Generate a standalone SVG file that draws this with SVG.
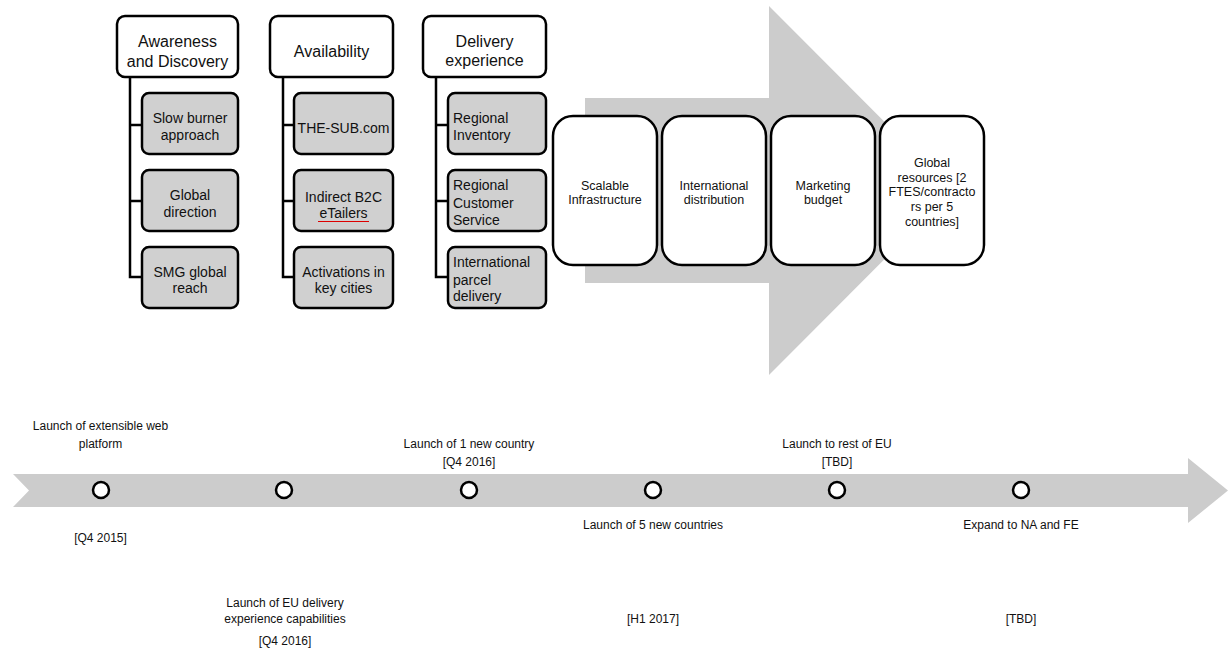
<svg xmlns="http://www.w3.org/2000/svg" width="1229" height="653" viewBox="0 0 1229 653">
<style>
text{font-family:"Liberation Sans",Arial,sans-serif;fill:#111}
.hdr{fill:#fff;stroke:#000;stroke-width:2.5}
.sub{fill:#d0d0d0;stroke:#000;stroke-width:2.5}
.step{fill:#fff;stroke:#000;stroke-width:2.5}
.h{font-size:16px;text-anchor:middle}
.c{font-size:14px;text-anchor:middle}
.l{font-size:14px}
.s{font-size:12.5px;text-anchor:middle}
.t{font-size:12px;text-anchor:middle}
.conn{fill:none;stroke:#000;stroke-width:2.5}
.ms{fill:#fff;stroke:#000;stroke-width:2.5}
.band{fill:#cccccc}
</style>
<g id="big-arrow"><polygon class="band" points="585,98 769,98 769,6 953,190.5 769,375 769,283 585,283"/></g>
<g id="timeline-arrow"><polygon class="band" points="13,474 1188,474 1188,458 1228,490.5 1188,523 1188,507 13,507 29,490.5"/></g>
<g id="connectors">
<path class="conn" d="M130,77V277H142M130,125H142M130,201H142"/>
<path class="conn" d="M283,77V277H294M283,125H294M283,201H294"/>
<path class="conn" d="M436,77V277H448M436,125H448M436,201H448"/>
</g>
<g id="awareness"><rect class="hdr" x="117" y="16" width="121" height="61" rx="8"/><text class="h" x="177.5" y="47">Awareness</text><text class="h" x="177.5" y="67">and Discovery</text></g>
<g id="slow-burner"><rect class="sub" x="142" y="93" width="96" height="61" rx="7"/><text class="c" x="190" y="123">Slow burner</text><text class="c" x="190" y="140">approach</text></g>
<g id="global-direction"><rect class="sub" x="142" y="170" width="96" height="61" rx="7"/><text class="c" x="190" y="200">Global</text><text class="c" x="190" y="217">direction</text></g>
<g id="smg-reach"><rect class="sub" x="142" y="247" width="96" height="61" rx="7"/><text class="c" x="190" y="277">SMG global</text><text class="c" x="190" y="293">reach</text></g>
<g id="availability"><rect class="hdr" x="270" y="16" width="123" height="61" rx="8"/><text class="h" x="331.5" y="57">Availability</text></g>
<g id="the-sub"><rect class="sub" x="294" y="93" width="99" height="61" rx="7"/><text class="c" x="343.5" y="133">THE-SUB.com</text></g>
<g id="indirect"><rect class="sub" x="294" y="170" width="99" height="61" rx="7"/><text class="c" x="343.5" y="202">Indirect B2C</text><text class="c" x="343.5" y="218">eTailers</text><line x1="318" y1="221.5" x2="369" y2="221.5" stroke="#d00" stroke-width="1"/></g>
<g id="activations"><rect class="sub" x="294" y="247" width="99" height="61" rx="7"/><text class="c" x="343.5" y="277">Activations in</text><text class="c" x="343.5" y="293">key cities</text></g>
<g id="delivery"><rect class="hdr" x="423" y="16" width="123" height="61" rx="8"/><text class="h" x="484.5" y="47">Delivery</text><text class="h" x="484.5" y="66">experience</text></g>
<g id="regional-inventory"><rect class="sub" x="448" y="93" width="98" height="61" rx="7"/><text class="l" x="453" y="123">Regional</text><text class="l" x="453" y="140">Inventory</text></g>
<g id="regional-cs"><rect class="sub" x="448" y="170" width="98" height="61" rx="7"/><text class="l" x="453" y="190">Regional</text><text class="l" x="453" y="208">Customer</text><text class="l" x="453" y="225">Service</text></g>
<g id="parcel"><rect class="sub" x="448" y="247" width="98" height="61" rx="7"/><text class="l" x="453" y="267">International</text><text class="l" x="453" y="285">parcel</text><text class="l" x="453" y="301">delivery</text></g>
<g id="scalable"><rect class="step" x="553" y="116" width="104" height="149" rx="20"/><text class="s" x="605" y="190">Scalable</text><text class="s" x="605" y="204">Infrastructure</text></g>
<g id="intl-dist"><rect class="step" x="662" y="116" width="104" height="149" rx="20"/><text class="s" x="714" y="190">International</text><text class="s" x="714" y="204">distribution</text></g>
<g id="marketing"><rect class="step" x="771" y="116" width="104" height="149" rx="20"/><text class="s" x="823" y="190">Marketing</text><text class="s" x="823" y="204">budget</text></g>
<g id="global-resources"><rect class="step" x="880" y="116" width="104" height="149" rx="20"/><text class="s" x="932" y="167">Global</text><text class="s" x="932" y="182">resources [2</text><text class="s" x="932" y="196">FTES/contracto</text><text class="s" x="932" y="211">rs per 5</text><text class="s" x="932" y="226">countries]</text></g>
<g id="m1"><circle class="ms" cx="101" cy="490" r="8"/><text class="t" x="100.5" y="430">Launch of extensible web</text><text class="t" x="100.5" y="448">platform</text><text class="t" x="100.5" y="542">[Q4 2015]</text></g>
<g id="m2"><circle class="ms" cx="284" cy="490" r="8"/><text class="t" x="285" y="607">Launch of EU delivery</text><text class="t" x="285" y="623">experience capabilities</text><text class="t" x="285" y="645">[Q4 2016]</text></g>
<g id="m3"><circle class="ms" cx="469" cy="490" r="8"/><text class="t" x="469" y="448">Launch of 1 new country</text><text class="t" x="469" y="466">[Q4 2016]</text></g>
<g id="m4"><circle class="ms" cx="653" cy="490" r="8"/><text class="t" x="653" y="529">Launch of 5 new countries</text><text class="t" x="653" y="623">[H1 2017]</text></g>
<g id="m5"><circle class="ms" cx="837" cy="490" r="8"/><text class="t" x="837" y="448">Launch to rest of EU</text><text class="t" x="837" y="466">[TBD]</text></g>
<g id="m6"><circle class="ms" cx="1021" cy="490" r="8"/><text class="t" x="1021" y="529">Expand to NA and FE</text><text class="t" x="1021" y="623">[TBD]</text></g>
</svg>
